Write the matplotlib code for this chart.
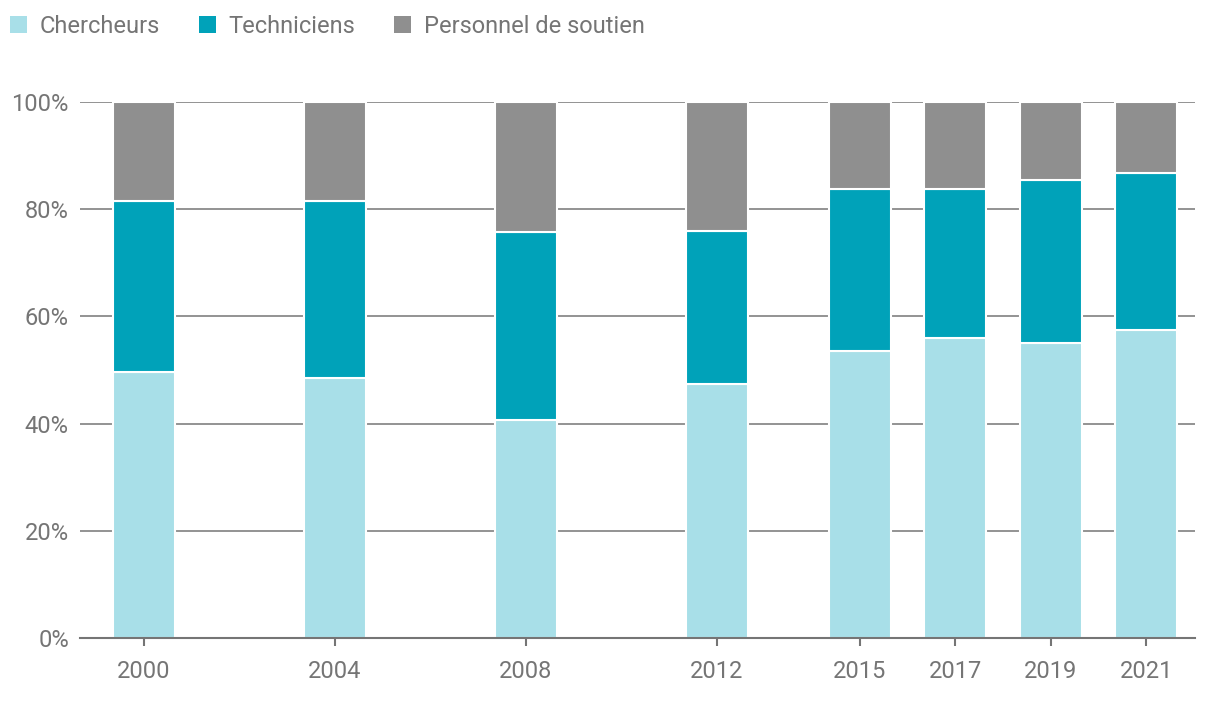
import matplotlib
matplotlib.use("Agg")
import matplotlib.pyplot as plt
from matplotlib.patches import Patch
import numpy as np

plt.rcParams['font.family'] = ['Roboto', 'DejaVu Sans']

years = [2000, 2004, 2008, 2012, 2015, 2017, 2019, 2021]
series_names = ["Chercheurs", "Techniciens", "Personnel de soutien"]
chercheurs = [49.6, 48.5, 40.6, 47.4, 53.6, 56.0, 55.1, 57.5]
techniciens = [31.9, 33.0, 35.1, 28.5, 30.15, 27.75, 30.3, 29.25]
soutien = [18.5, 18.5, 24.3, 24.1, 16.25, 16.25, 14.6, 13.25]
colors = ["#A8DFE8", "#00A2B9", "#8F8F8F"]
yticks = [0, 20, 40, 60, 80, 100]
ytick_labels = ["0%", "20%", "40%", "60%", "80%", "100%"]

TXT = "#757575"
FS = 17
fig = plt.figure(figsize=(12.2, 7.06), dpi=100)
ax = fig.add_axes([0.0656, 0.0963, 0.914, 0.7592])

bottom = np.zeros(len(years))
for vals, col in zip([chercheurs, techniciens, soutien], colors):
    ax.bar(years, vals, bottom=bottom, width=1.3, color=col,
           edgecolor="white", linewidth=1.5, zorder=3)
    bottom += np.array(vals)

ax.set_xlim(1998.67, 2022.02)
ax.set_ylim(0, 100)
ax.set_yticks(yticks)
ax.set_yticklabels(ytick_labels)
ax.set_xticks(years)
ax.set_xticklabels([str(y) for y in years])
ax.grid(axis='y', color=TXT, linewidth=1.1, zorder=0)
ax.set_axisbelow(True)
for s in ['top', 'right', 'left']:
    ax.spines[s].set_visible(False)
ax.spines['bottom'].set_color(TXT)
ax.spines['bottom'].set_linewidth(1.5)
ax.spines['bottom'].set_zorder(4)
ax.tick_params(axis='y', length=0, pad=8, labelsize=FS, labelcolor=TXT)
ax.tick_params(axis='x', length=6, width=1.5, color=TXT, pad=10,
               labelsize=FS, labelcolor=TXT)

handles = [Patch(facecolor=c, edgecolor='none') for c in colors]
fig.legend(handles, series_names, loc='center left',
           bbox_to_anchor=(0.0028, 0.963), ncol=3, frameon=False,
           fontsize=FS, labelcolor=TXT, handlelength=0.7, handleheight=0.7,
           handletextpad=0.55, columnspacing=1.65, borderaxespad=0, borderpad=0.3)

fig.savefig("out.png", dpi=100)
